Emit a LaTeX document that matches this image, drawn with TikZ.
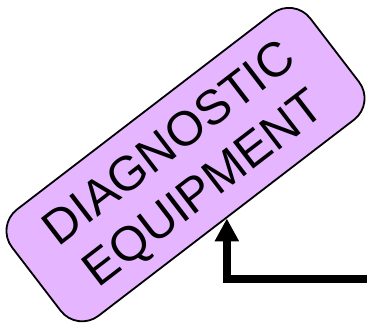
\documentclass[tikz,border=0pt]{standalone}
\usepackage{fontspec}
\setmainfont{Liberation Sans}
\usetikzlibrary{arrows.meta,calc}
\definecolor{boxfill}{RGB}{230,181,255}
\tikzset{
  equipbox/.style={draw=black, line width=1.8pt, fill=boxfill, rounded corners=27pt,
    minimum width=376pt, minimum height=134pt, inner sep=0pt, rotate=37.5},
  equiptext/.style={inner sep=0pt, rotate=37.5, align=center,
    font=\fontsize{48.5}{57}\selectfont},
  feedarrow/.style={line width=8pt, line join=miter, -{Triangle[width=23pt,length=23pt]}}
}
\begin{document}
\begin{tikzpicture}[x=1pt,y=-1pt]
\useasboundingbox (0,0) rectangle (367,327);
\node[equipbox] (box) at (185.5,164.6) {};
\node[equiptext] (lbl) at ($(box.center)+(2.7,3.6)$) {DIAGNOSTIC\\EQUIPMENT};
\coordinate (src) at (370,279);
\draw[feedarrow] (src) -| (box.south);
\end{tikzpicture}
\end{document}
